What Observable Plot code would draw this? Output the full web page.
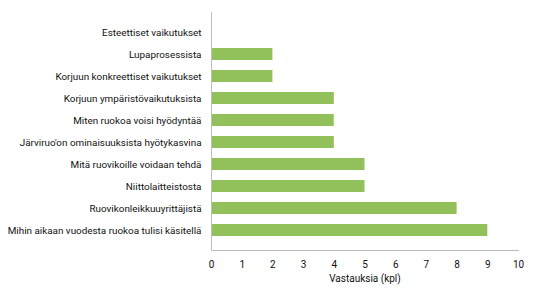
<!DOCTYPE html>
<html>
<head>
<meta charset="utf-8">
<script src="https://cdn.jsdelivr.net/npm/d3@7"></script>
<script src="https://cdn.jsdelivr.net/npm/@observablehq/plot@0.6"></script>
<style>
  body { margin: 0; background: #fff; }
</style>
</head>
<body>
<div id="chart"></div>
<script>
const categories = [
  "Esteettiset vaikutukset",
  "Lupaprosessista",
  "Korjuun konkreettiset vaikutukset",
  "Korjuun ympäristövaikutuksista",
  "Miten ruokoa voisi hyödyntää",
  "Järviruo'on ominaisuuksista hyötykasvina",
  "Mitä ruovikoille voidaan tehdä",
  "Niittolaitteistosta",
  "Ruovikonleikkuuyrittäjistä",
  "Mihin aikaan vuodesta ruokoa tulisi käsitellä"
];
const values = [0, 2, 2, 4, 4, 4, 5, 5, 8, 9];
const xTicks = [0, 1, 2, 3, 4, 5, 6, 7, 8, 9, 10];
const xLabel = "Vastauksia (kpl)";

const data = categories.map((c, i) => ({category: c, value: values[i]}));

const chart = Plot.plot({
  width: 536,
  height: 300,
  marginLeft: 211,
  marginRight: 18,
  marginTop: 12,
  marginBottom: 50,
  style: {fontFamily: "Roboto, sans-serif", fontSize: "9.9px", color: "#111", background: "#fff"},
  x: {domain: [0, 10], ticks: xTicks, label: null},
  y: {domain: categories, padding: 0.44, label: null},
  marks: [
    Plot.barX(data, {x: "value", y: "category", fill: "#92c15b"}),
    Plot.frame({anchor: "left", stroke: "#bfbfbf"}),
    Plot.frame({anchor: "bottom", stroke: "#bfbfbf"}),
    Plot.axisY({tickSize: 0, tickPadding: 10, label: null, fontSize: 9.9}),
    Plot.axisX({ticks: xTicks, tickSize: 0, tickPadding: 10, label: null, fontSize: 10}),
    Plot.text([xLabel], {frameAnchor: "bottom", dy: 31, fontSize: 10, fill: "#111"})
  ]
});
document.getElementById("chart").appendChild(chart);
</script>
</body>
</html>
